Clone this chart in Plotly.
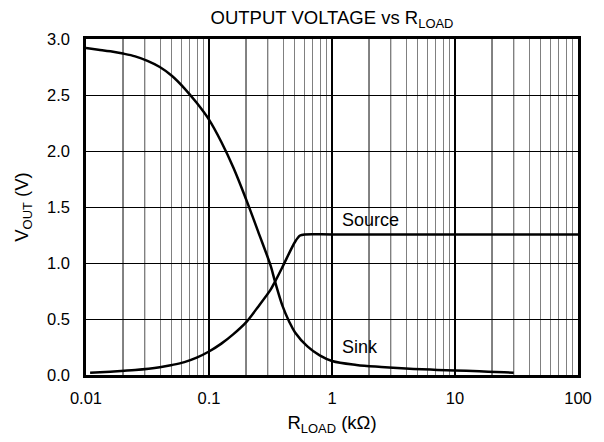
import plotly.graph_objects as go

# ---- data ----
sink_r = [0.01, 0.0126, 0.0158, 0.02, 0.0251, 0.0316, 0.0398, 0.0501, 0.0631, 0.0794, 0.1,
          0.126, 0.158, 0.2, 0.251, 0.316, 0.343, 0.398, 0.447, 0.501, 0.631, 0.794, 1.0,
          1.58, 2.51, 3.98, 6.31, 10, 15.8, 25.1, 30]
sink_v = [2.92, 2.905, 2.89, 2.87, 2.845, 2.805, 2.75, 2.67, 2.56, 2.43, 2.28,
          2.08, 1.85, 1.57, 1.28, 0.98, 0.84, 0.61, 0.48, 0.38, 0.255, 0.175, 0.125,
          0.09, 0.072, 0.058, 0.048, 0.04, 0.033, 0.024, 0.02]

source_r = [0.0108, 0.0158, 0.0251, 0.0398, 0.0501, 0.0631, 0.0794, 0.1, 0.126, 0.158,
            0.2, 0.251, 0.316, 0.343, 0.398, 0.501, 0.55, 0.6, 1, 10, 100]
source_v = [0.02, 0.03, 0.045, 0.07, 0.09, 0.115, 0.155, 0.21, 0.28, 0.365,
            0.47, 0.61, 0.76, 0.83, 0.97, 1.19, 1.245, 1.255, 1.255, 1.255, 1.255]

x_tickvals = [0.01, 0.1, 1, 10, 100]
x_ticktext = ["0.01", "0.1", "1", "10", "100"]
dark_minor = [0.02, 0.03, 0.2, 0.3, 2, 3, 20, 30]

FONT = "Liberation Sans, Arial, sans-serif"

fig = go.Figure()
fig.add_trace(go.Scatter(x=sink_r, y=sink_v, mode="lines", name="Sink",
                         line=dict(color="black", width=2.5, shape="spline", smoothing=1.0)))
fig.add_trace(go.Scatter(x=source_r, y=source_v, mode="lines", name="Source",
                         line=dict(color="black", width=2.5, shape="spline", smoothing=0.8)))

for xv in dark_minor:
    fig.add_shape(type="line", xref="x", yref="paper", x0=xv, x1=xv, y0=0, y1=1,
                  line=dict(color="black", width=1), layer="below")

fig.add_annotation(x=0.315, y=1.38, xref="x", yref="y", text="Source", showarrow=False,
                   font=dict(family=FONT, size=18, color="black"))
fig.add_annotation(x=0.23, y=0.25, xref="x", yref="y", text="Sink", showarrow=False,
                   font=dict(family=FONT, size=18, color="black"))

# page body has an 8px margin: figure is sized/offset to place the plot area exactly
fig.update_layout(
    width=596, height=434,
    margin=dict(l=78, r=23, t=31, b=67),
    paper_bgcolor="white", plot_bgcolor="white",
    showlegend=False,
    font=dict(family=FONT, size=16, color="black"),
    title=dict(text="OUTPUT VOLTAGE vs R<sub>LOAD</sub>", x=0.5, xref="paper",
               y=0.978, yref="container", yanchor="middle",
               font=dict(family=FONT, size=18.5, color="black")),
)
fig.update_xaxes(
    type="log", range=[-2, 2],
    tickvals=x_tickvals, ticktext=x_ticktext,
    showgrid=True, gridcolor="black", gridwidth=2,
    minor=dict(dtick="D1", showgrid=True, gridcolor="#808080", gridwidth=1.3, ticks=""),
    showline=True, mirror=True, linecolor="black", linewidth=2.5,
    ticks="", ticklabelstandoff=6, zeroline=False,
    title=dict(text="R<sub>LOAD</sub> (kΩ)", standoff=11, font=dict(size=18.5)),
    tickfont=dict(size=16.5),
)
fig.update_yaxes(
    range=[0, 3], dtick=0.5, tickformat=".1f",
    showgrid=True, gridcolor="black", gridwidth=1,
    showline=True, mirror=True, linecolor="black", linewidth=2.5,
    ticks="", ticklabelstandoff=10, zeroline=False,
    title=dict(text="V<sub>OUT</sub> (V)", standoff=14, font=dict(size=18.5)),
    tickfont=dict(size=16.5),
)

fig.write_html("out.html")
